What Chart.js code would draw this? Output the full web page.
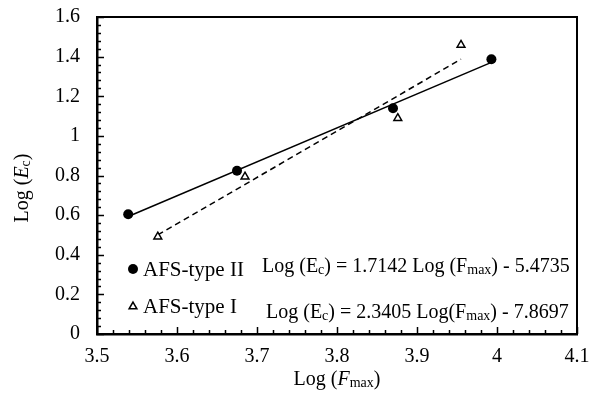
<!DOCTYPE html>
<html><head><meta charset="utf-8">
<script src="https://cdn.jsdelivr.net/npm/chart.js@4"></script>
<style>html,body{margin:0;padding:0;background:#fff}#wrap{width:589px;height:394px}</style>
</head><body><div id="wrap"><canvas id="c" width="589" height="394"></canvas></div>
<script>
// ---- data ----
const typeIIX = [3.539, 3.675, 3.870, 3.993];
const typeIIY = [0.604, 0.824, 1.139, 1.387];
const typeIX  = [3.576, 3.685, 3.876, 3.955];
const typeIY  = [0.491, 0.794, 1.089, 1.459];
const fitIIX = [3.539, 3.993];
const fitIIY = [0.593, 1.371];
const fitIX  = [3.576, 3.955];
const fitIY  = [0.500, 1.387];
const xTickValues = [3.5, 3.6, 3.7, 3.8, 3.9, 4.0, 4.1];
const yTickValues = [0, 0.2, 0.4, 0.6, 0.8, 1.0, 1.2, 1.4, 1.6];
const seriesLabels = ['AFS-type II', 'AFS-type I'];
const eqII = [{t:'Log (E'},{t:'c',s:1},{t:') = 1.7142 Log (F'},{t:'max',s:1},{t:') - 5.4735'}];
const eqI  = [{t:'Log (E'},{t:'c',s:1},{t:') = 2.3405 Log(F'},{t:'max',s:1},{t:') - 7.8697'}];
const yTitle = [{t:'Log ('},{t:'E',i:1},{t:'c',s:1},{t:')'}];
const xTitle = [{t:'Log ('},{t:'F',i:1},{t:'max',s:1},{t:')'}];

const FAM = '"Liberation Serif", "Times New Roman", serif';
const pts = (xs, ys) => xs.map((x, k) => ({x, y: ys[k]}));
const fmt = v => String(Number(v.toFixed(3)));
const zeroPad = s => { s.paddingTop = 0; s.paddingBottom = 0; s.paddingLeft = 0; s.paddingRight = 0; };

function fontFor(seg, size){
  const sz = seg.s ? Math.round(size*0.68) : size;
  return (seg.i ? 'italic ' : '') + sz + 'px ' + FAM;
}
function richWidth(ctx, segs, size){
  let w = 0;
  for (const g of segs){ ctx.font = fontFor(g, size); w += ctx.measureText(g.t).width; }
  return w;
}
function drawRich(ctx, segs, x, y, size, align){
  let w = richWidth(ctx, segs, size);
  let cx = align === 'center' ? x - w/2 : x;
  ctx.textBaseline = 'alphabetic';
  ctx.textAlign = 'left';
  for (const g of segs){
    ctx.font = fontFor(g, size);
    ctx.fillText(g.t, cx, y + (g.s ? size*0.1 : 0));
    cx += ctx.measureText(g.t).width;
  }
}

const decor = {
  id: 'decor',
  afterDraw(chart){
    const ctx = chart.ctx;
    const {left, right, top, bottom} = chart.chartArea;
    const xs = chart.scales.x, ys = chart.scales.y;
    ctx.save();
    ctx.strokeStyle = '#000';
    ctx.lineWidth = 2;
    ctx.strokeRect(left, top, right - left, bottom - top);
    // inside ticks
    ctx.lineWidth = 1.5;
    ctx.beginPath();
    for (let k = 0; k <= 30; k++){
      const v = xTickValues[0] + k*0.02;
      const px = Math.round(xs.getPixelForValue(v)) + 0.5;
      const len = (k % 5 === 0) ? 7 : 4;
      ctx.moveTo(px, bottom); ctx.lineTo(px, bottom - len);
    }
    for (let k = 0; k <= 40; k++){
      const v = k*0.04;
      const py = Math.round(ys.getPixelForValue(v)) + 0.5;
      const len = (k % 5 === 0) ? 7 : 4;
      ctx.moveTo(left, py); ctx.lineTo(left + len, py);
    }
    ctx.stroke();
    ctx.fillStyle = '#000';
    // legend markers
    ctx.beginPath(); ctx.arc(133, 269, 5, 0, Math.PI*2); ctx.fill();
    const r = 4.5, tx = 133, ty = 306.5;
    ctx.beginPath();
    ctx.moveTo(tx, ty - r);
    ctx.lineTo(tx + r*Math.sin(2*Math.PI/3), ty - r*Math.cos(2*Math.PI/3));
    ctx.lineTo(tx + r*Math.sin(4*Math.PI/3), ty - r*Math.cos(4*Math.PI/3));
    ctx.closePath();
    ctx.fillStyle = '#fff'; ctx.fill();
    ctx.lineWidth = 1.5; ctx.stroke();
    ctx.fillStyle = '#000';
    ctx.font = '21px ' + FAM; ctx.textAlign = 'left'; ctx.textBaseline = 'alphabetic';
    ctx.fillText(seriesLabels[0], 143, 276);
    ctx.fillText(seriesLabels[1], 143, 313);
    drawRich(ctx, eqII, 262, 272, 20, 'left');
    drawRich(ctx, eqI, 266, 318, 20, 'left');
    // axis titles
    drawRich(ctx, xTitle, (left + right)/2, 385, 20, 'center');
    ctx.save();
    ctx.translate(28, 188);
    ctx.rotate(-Math.PI/2);
    drawRich(ctx, yTitle, 0, 0, 20, 'center');
    ctx.restore();
    ctx.restore();
  }
};

new Chart(document.getElementById('c'), {
  type: 'scatter',
  data: {
    datasets: [
      {label: seriesLabels[0], data: pts(typeIIX, typeIIY), pointStyle: 'circle', pointRadius: 5,
       backgroundColor: '#000', borderColor: '#000', borderWidth: 0, showLine: false, order: 1},
      {label: seriesLabels[1], data: pts(typeIX, typeIY), pointStyle: 'triangle', pointRadius: 4.5,
       backgroundColor: '#fff', borderColor: '#000', borderWidth: 1.5, showLine: false, order: 1},
      {label: 'fitII', data: pts(fitIIX, fitIIY), showLine: true, pointRadius: 0,
       borderColor: '#000', borderWidth: 1.5, order: 2},
      {label: 'fitI', data: pts(fitIX, fitIY), showLine: true, pointRadius: 0,
       borderColor: '#000', borderWidth: 1.5, borderDash: [6, 4], order: 2}
    ]
  },
  options: {
    responsive: false, animation: false, devicePixelRatio: 1,
    layout: {padding: {left: 0, top: 17, right: 12, bottom: 0}},
    plugins: {legend: {display: false}, tooltip: {enabled: false}},
    scales: {
      x: {
        type: 'linear', min: 3.5, max: 4.1,
        afterBuildTicks: s => { s.ticks = xTickValues.map(v => ({value: v})); },
        afterFit: s => { s.height = 60; zeroPad(s); },
        grid: {display: false, drawTicks: false},
        border: {display: true, color: '#000', width: 2.5},
        ticks: {color: '#000', font: {family: FAM, size: 20}, padding: 11, maxRotation: 0, autoSkip: false,
                callback: v => fmt(v)}
      },
      y: {
        type: 'linear', min: 0, max: 1.6,
        afterBuildTicks: s => { s.ticks = yTickValues.map(v => ({value: v})); },
        afterFit: s => { s.width = 97; zeroPad(s); },
        grid: {display: false, drawTicks: false},
        border: {display: true, color: '#000', width: 2.5},
        ticks: {color: '#000', font: {family: FAM, size: 20}, padding: 17, autoSkip: false,
                callback: v => fmt(v)}
      }
    }
  },
  plugins: [decor]
});
</script></body></html>
